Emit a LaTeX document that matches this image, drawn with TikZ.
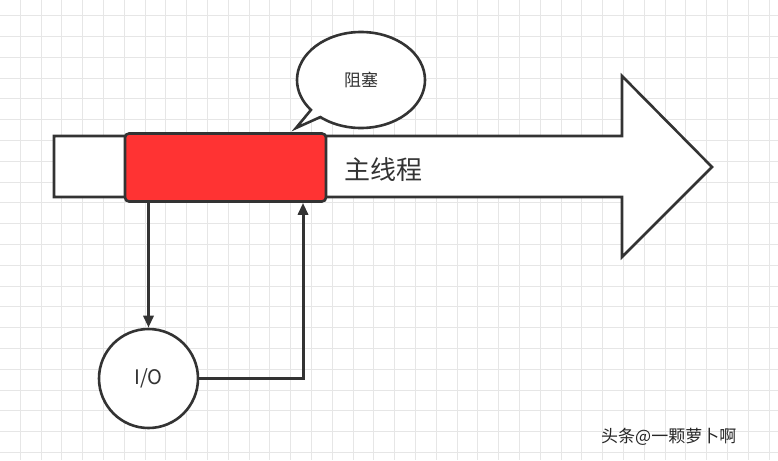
\documentclass[tikz,border=0pt]{standalone}
\usepackage{fontspec}
\setmainfont{Liberation Sans}
\newfontfamily\cjk{Noto Sans CJK SC}
\usetikzlibrary{arrows.meta,shapes.callouts,calc}
\definecolor{ink}{HTML}{333333}
\definecolor{redfill}{HTML}{FF3333}
\definecolor{gridc}{HTML}{E6E6E6}
\definecolor{txt}{HTML}{333333}
\begin{document}
\begin{tikzpicture}[x=1pt,y=-1pt,
  outline/.style={draw=ink,line width=2.6pt,line join=miter},
  conn/.style={draw=ink,line width=3pt,-{Triangle[length=12pt,width=10pt]}}]
\useasboundingbox (0,0) rectangle (778,460);
\fill[white] (0,0) rectangle (778,460);
\foreach \i in {0,...,38} \draw[gridc,line width=0.7pt] ({-0.7+20.8*\i},0) -- ++(0,460);
\foreach \j in {0,...,22} \draw[gridc,line width=0.7pt] (0,{15.5+20.8*\j}) -- ++(778,0);
% big arrow
\draw[outline,fill=white] (54,136) -- (622,136) -- (622,76) -- (712,167) -- (622,257) -- (622,197) -- (54,197) -- cycle;
% red box
\node[outline,fill=redfill,rounded corners=4pt,minimum width=201pt,minimum height=68pt,inner sep=0pt] (blk) at (225.5,167.5) {};
\node[text=txt,font=\cjk\fontsize{26}{26}\selectfont,inner sep=0pt] (main) at (383.5,170) {主线程};
% callout
\node[ellipse callout,outline,fill=white,minimum width=128pt,minimum height=96pt,inner sep=0pt,
  callout absolute pointer={(296,128)},callout pointer arc=12,
  text=txt,font=\cjk\fontsize{17}{17}\selectfont] (blocked) at (361,80) {阻塞};
% I/O circle
\node[circle,outline,fill=white,minimum size=99pt,inner sep=0pt,text=txt,font=\cjk\fontsize{20}{20}\selectfont] (io) at (148.5,378.5) {I/O};
\coordinate (upx) at (303,300);
\draw[conn] (io.north |- blk.south) -- (io.north);
\draw[conn] (io.east) -| (upx |- blk.south);
% watermark
\node[text=black!85,font=\cjk\fontsize{17}{17}\selectfont,inner sep=0pt,anchor=west] (wm) at (601,437) {头条@一颗萝卜啊};
\end{tikzpicture}
\end{document}
